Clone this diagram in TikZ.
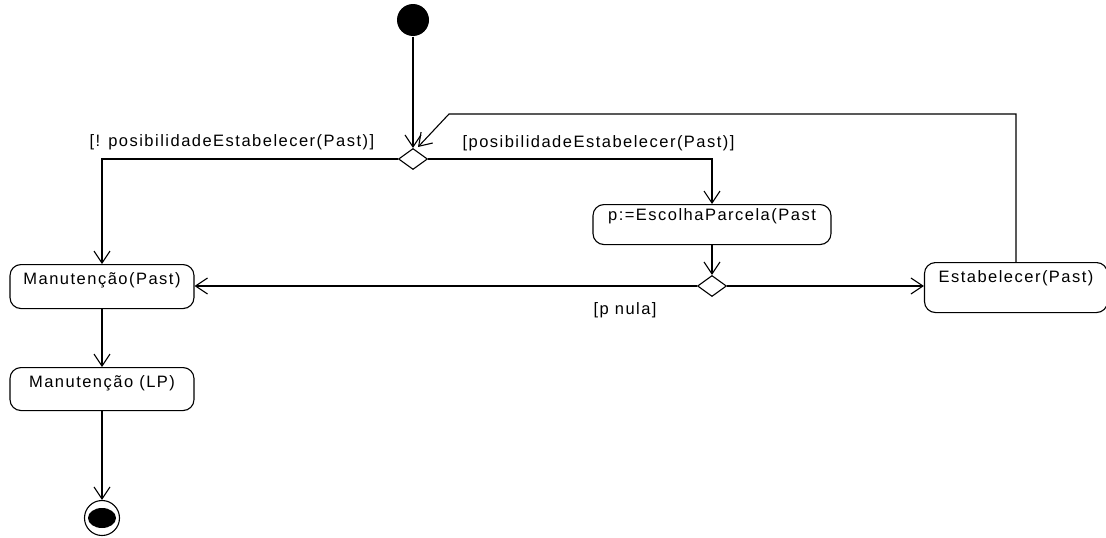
\documentclass[tikz,border=0pt]{standalone}
\usepackage{fontspec}
\setmainfont{Liberation Sans}[LetterSpace=9]
\usetikzlibrary{arrows.meta,shapes.geometric}
\begin{document}
\begin{tikzpicture}[x=1pt,y=-1pt,line width=1.1pt,
  font=\fontsize{16.5}{19}\selectfont,
  act/.style={draw,rounded corners=11pt,inner xsep=0pt,inner ysep=0pt,anchor=north},
  dec/.style={draw,diamond,inner sep=0pt,minimum width=29pt,minimum height=21pt},
  flow/.style={-{Straight Barb[length=12pt,width=16pt]}},
  lab/.style={anchor=base west,inner sep=0pt}]
\useasboundingbox (0,0) rectangle (1106,538);
% initial and final states
\node[circle,fill,minimum size=32pt,inner sep=0pt] (start) at (413,20) {};
\node[circle,draw,minimum size=35pt,inner sep=0pt] (fin) at (102,518) {};
\fill (fin.center) ellipse (14pt and 10pt);
% decisions
\node[dec] (d1) at (413,159) {};
\node[dec] (d2) at (712,286) {};
% activities
\node[act,minimum width=184pt,text height=20pt,text depth=24pt] (mp) at (102,264) {Manutenção(Past)};
\node[act,minimum width=184pt,text height=20pt,text depth=23pt] (lp) at (102,367) {Manutenção (LP)};
\node[act,minimum width=238pt,text height=16pt,text depth=24pt] (pn) at (712,204) {p:=EscolhaParcela(Past};
\node[act,minimum width=183pt,text height=20pt,text depth=30pt] (es) at (1016,262) {Estabelecer(Past)};
% labels
\node[lab] (l1) at (89,146) {[! posibilidadeEstabelecer(Past)]};
\node[lab] (l2) at (462,147) {[posibilidadeEstabelecer(Past)]};
\node[lab] (l3) at (593,314) {[p nula]};
% connectors
\coordinate (loopc) at (449,114);
\coordinate (loopend) at (418,147);
\draw[flow] (start) -- (d1.north);
\draw[flow] (d1.west) -| (mp.north);
\draw[flow] (d1.east) -| (pn.north);
\draw[flow] (pn.south) -- (d2.north);
\draw[flow] (d2.west) -- (mp.east |- d2.west);
\draw[flow] (d2.east) -- (es.west |- d2.east);
\draw[flow] (es.north) |- (loopc) -- (loopend);
\draw[flow] (mp.south) -- (lp.north);
\draw[flow] (lp.south) -- (lp.south |- fin.north);
\end{tikzpicture}
\end{document}
